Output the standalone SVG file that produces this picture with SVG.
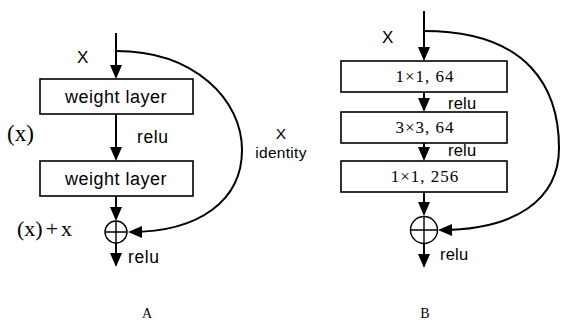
<svg xmlns="http://www.w3.org/2000/svg" width="561" height="324" viewBox="0 0 561 324">
<style>
.box{fill:#fff;stroke:#000;stroke-width:1.6}
.ln{fill:none;stroke:#000;stroke-width:2}
.sum{fill:none;stroke:#000;stroke-width:1.4}
.sans{font-family:"Liberation Sans",Arial,sans-serif;fill:#000}
.serif{font-family:"Liberation Serif","Times New Roman",serif;fill:#000}
.wl{font-size:18px;letter-spacing:0.5px;text-anchor:middle}
.reluA{font-size:17.5px;letter-spacing:0.6px}
.reluB{font-size:16.5px;letter-spacing:0.2px}
.conv{font-size:17px;letter-spacing:1px;text-anchor:middle}
</style>
<defs>
<marker id="ah" markerUnits="userSpaceOnUse" markerWidth="14" markerHeight="12" refX="12" refY="6" orient="auto">
<path d="M0,0 L14,6 L0,12 z" fill="#000"/>
</marker>
</defs>
<rect width="561" height="324" fill="#fff"/>

<g id="connectors">
<path class="ln" d="M116,33 V77" marker-end="url(#ah)"/>
<path class="ln" d="M116,114 V159" marker-end="url(#ah)"/>
<path class="ln" d="M116,196 V219" marker-end="url(#ah)"/>
<path class="ln" d="M116,243 V265" marker-end="url(#ah)"/>
<path class="ln" d="M116,51 C195,51 242,100 242,150 C242,200 200,232 130,232" marker-end="url(#ah)"/>
<path class="ln" d="M424,11 V59" marker-end="url(#ah)"/>
<path class="ln" d="M424,92 V110" marker-end="url(#ah)"/>
<path class="ln" d="M424,143 V159" marker-end="url(#ah)"/>
<path class="ln" d="M424,192 V214" marker-end="url(#ah)"/>
<path class="ln" d="M424,243.5 V266" marker-end="url(#ah)"/>
<path class="ln" d="M424,31 C530,31 559,90 559,148 C559,200 515,230 440,230" marker-end="url(#ah)"/>
</g>

<g id="A-weight1">
<rect class="box" x="40" y="79" width="153" height="35"/>
<text class="sans wl" x="116" y="103">weight layer</text>
</g>
<g id="A-weight2">
<rect class="box" x="40" y="161" width="153" height="35"/>
<text class="sans wl" x="116" y="185">weight layer</text>
</g>
<g id="A-sum">
<circle class="sum" cx="116" cy="232" r="11"/>
<path class="sum" d="M105,232 H127 M116,221 V243"/>
</g>
<g id="A-labels">
<text class="sans" x="77" y="63" font-size="17">X</text>
<text class="sans reluA" x="137" y="143">relu</text>
<text class="sans reluA" x="128" y="263">relu</text>
<text class="sans" x="281" y="139" font-size="15.5" text-anchor="middle">X</text>
<text class="sans" x="281" y="158" font-size="15.5" letter-spacing="0.3" text-anchor="middle">identity</text>
<text class="serif" x="7" y="141" font-size="23">(x)</text>
<text class="serif" x="17" y="236" font-size="22">(x)<tspan dx="3">+</tspan><tspan dx="3">x</tspan></text>
<text class="serif" x="147" y="318" font-size="14" text-anchor="middle">A</text>
</g>

<g id="B-conv1">
<rect class="box" x="341" y="61" width="166" height="31"/>
<text class="serif conv" x="425" y="82">1×1, 64</text>
</g>
<g id="B-conv2">
<rect class="box" x="341" y="112" width="166" height="31"/>
<text class="serif conv" x="425" y="133">3×3, 64</text>
</g>
<g id="B-conv3">
<rect class="box" x="341" y="161" width="166" height="31"/>
<text class="serif conv" x="425" y="182">1×1, 256</text>
</g>
<g id="B-sum">
<circle class="sum" cx="424" cy="230" r="13.5"/>
<path class="sum" d="M410.5,230 H437.5 M424,216.5 V243.5"/>
</g>
<g id="B-labels">
<text class="sans" x="382" y="43" font-size="17">X</text>
<text class="sans reluB" x="448" y="109">relu</text>
<text class="sans reluB" x="448" y="156">relu</text>
<text class="sans reluB" x="440" y="260">relu</text>
<text class="serif" x="425" y="318" font-size="14" text-anchor="middle">B</text>
</g>
</svg>
